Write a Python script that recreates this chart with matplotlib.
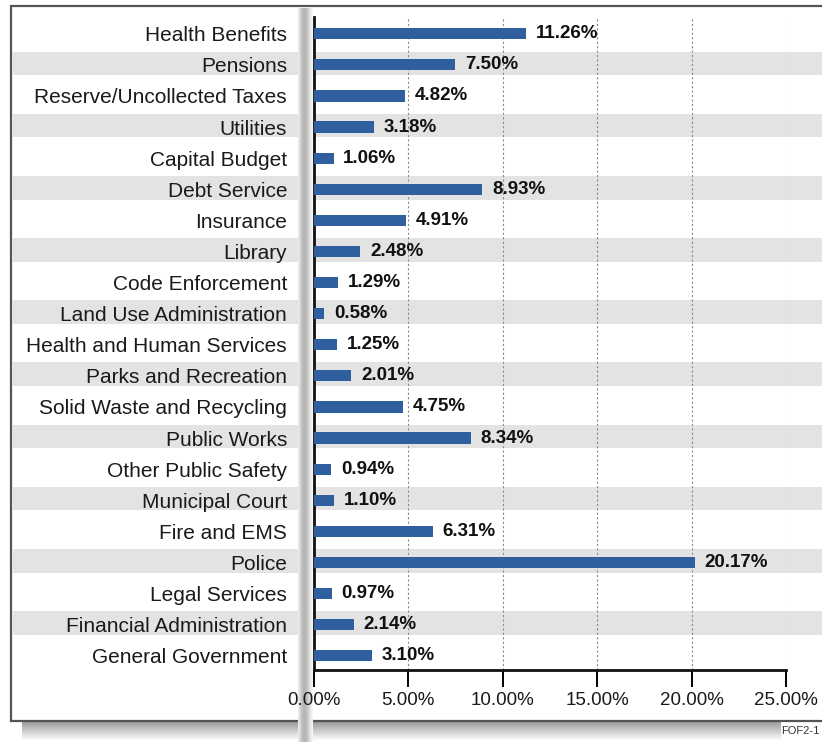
import numpy as np
import matplotlib.pyplot as plt
from matplotlib.patches import Rectangle
from matplotlib.transforms import ScaledTranslation

plt.rcParams['font.family'] = ['Liberation Sans', 'DejaVu Sans']

# --- data (bottom to top) ---
categories = [
    "General Government", "Financial Administration", "Legal Services", "Police",
    "Fire and EMS", "Municipal Court", "Other Public Safety", "Public Works",
    "Solid Waste and Recycling", "Parks and Recreation", "Health and Human Services",
    "Land Use Administration", "Code Enforcement", "Library", "Insurance",
    "Debt Service", "Capital Budget", "Utilities", "Reserve/Uncollected Taxes",
    "Pensions", "Health Benefits",
]
shares = [
    3.10, 2.14, 0.97, 20.17, 6.31, 1.10, 0.94, 8.34, 4.75, 2.01, 1.25,
    0.58, 1.29, 2.48, 4.91, 8.93, 1.06, 3.18, 4.82, 7.50, 11.26,
]
xticks = [0, 5, 10, 15, 20, 25]
footnote = "FOF2-1"
# ----------------------------

W, H = 822, 742
bar_color = "#2f5f9f"
band_color = "#e3e3e3"
ylim = (-0.46, 20.55)


def box(x0, y0, x1, y1):
    # pixel box (top-left origin) -> figure fraction rect
    return [x0 / W, 1 - y1 / H, (x1 - x0) / W, (y1 - y0) / H]


fig = plt.figure(figsize=(W / 100, H / 100), dpi=100)

# background: frame and drop shadow
bg = fig.add_axes([0, 0, 1, 1], zorder=0)
bg.set_xlim(0, W)
bg.set_ylim(H, 0)
bg.axis("off")
shade = np.linspace(0.5, 1.0, 20)[:, None]
bg.imshow(shade, cmap="gray", vmin=0, vmax=1, extent=(22, 780, 741, 721),
          aspect="auto", interpolation="bilinear", alpha=0.8)
bg.add_patch(Rectangle((11, 6), 830, 715, facecolor="white",
                       edgecolor="#555555", lw=1.6))

# alternating row bands across labels and plot
plot_top, plot_bottom = 16.7, 670
bands = fig.add_axes(box(12, plot_top, W, plot_bottom), zorder=1)
bands.set_ylim(*ylim)
bands.set_xlim(0, 1)
bands.axis("off")
for i in range(len(categories)):
    if i % 2 == 1:
        bands.axhspan(i - 0.33, i + 0.43, color=band_color, lw=0)

# vertical shadow strip between label column and plot
strip = fig.add_axes(box(298, 8, 313, H), zorder=2)
strip.axis("off")
profile = np.array([0.92, 0.85, 0.78, 0.73, 0.71, 0.72, 0.75, 0.8, 0.86, 0.92, 0.96])[None, :]
strip.imshow(profile, cmap="gray", vmin=0, vmax=1, aspect="auto",
             interpolation="bilinear", extent=(0, 1, 0, 1))
strip.set_xlim(0, 1)
strip.set_ylim(0, 1)

# main bar chart
ax = fig.add_axes(box(313.5, plot_top, 786, plot_bottom), zorder=3)
ax.set_facecolor("none")
y = np.arange(len(categories))
ax.barh(y, shares, height=0.36, color=bar_color, zorder=3)
for yi, v in zip(y, shares):
    ax.annotate(f"{v:.2f}%", (v, yi), xytext=(7, 0), textcoords="offset points",
                va="center", ha="left", fontsize=13.5, fontweight="bold", color="#111111")

ax.set_xlim(0, 25)
ax.set_ylim(*ylim)
ax.set_yticks(y)
ax.set_yticklabels(categories, fontsize=15, color="#1a1a1a")
ax.set_xticks(xticks)
ax.set_xticklabels([f"{t:.2f}%" for t in xticks], fontsize=13.5, color="#1a1a1a")
shift = ScaledTranslation(3 / 72, 0, fig.dpi_scale_trans)
for lbl in ax.get_xticklabels():
    lbl.set_transform(lbl.get_transform() + shift)
ax.tick_params(axis="y", length=0, pad=19)
ax.tick_params(axis="x", length=12, width=1.4, direction="out", pad=4)
ax.xaxis.grid(True, linestyle=(0, (2, 2)), color="#8a8a8a", lw=0.8)
ax.set_axisbelow(True)
for side in ("top", "right"):
    ax.spines[side].set_visible(False)
for side in ("left", "bottom"):
    ax.spines[side].set_linewidth(2)
    ax.spines[side].set_color("#111111")

fig.text(819 / W, 1 - 731 / H, footnote, fontsize=8, color="#333333",
         va="center", ha="right")

plt.savefig("out.png", dpi=100)
